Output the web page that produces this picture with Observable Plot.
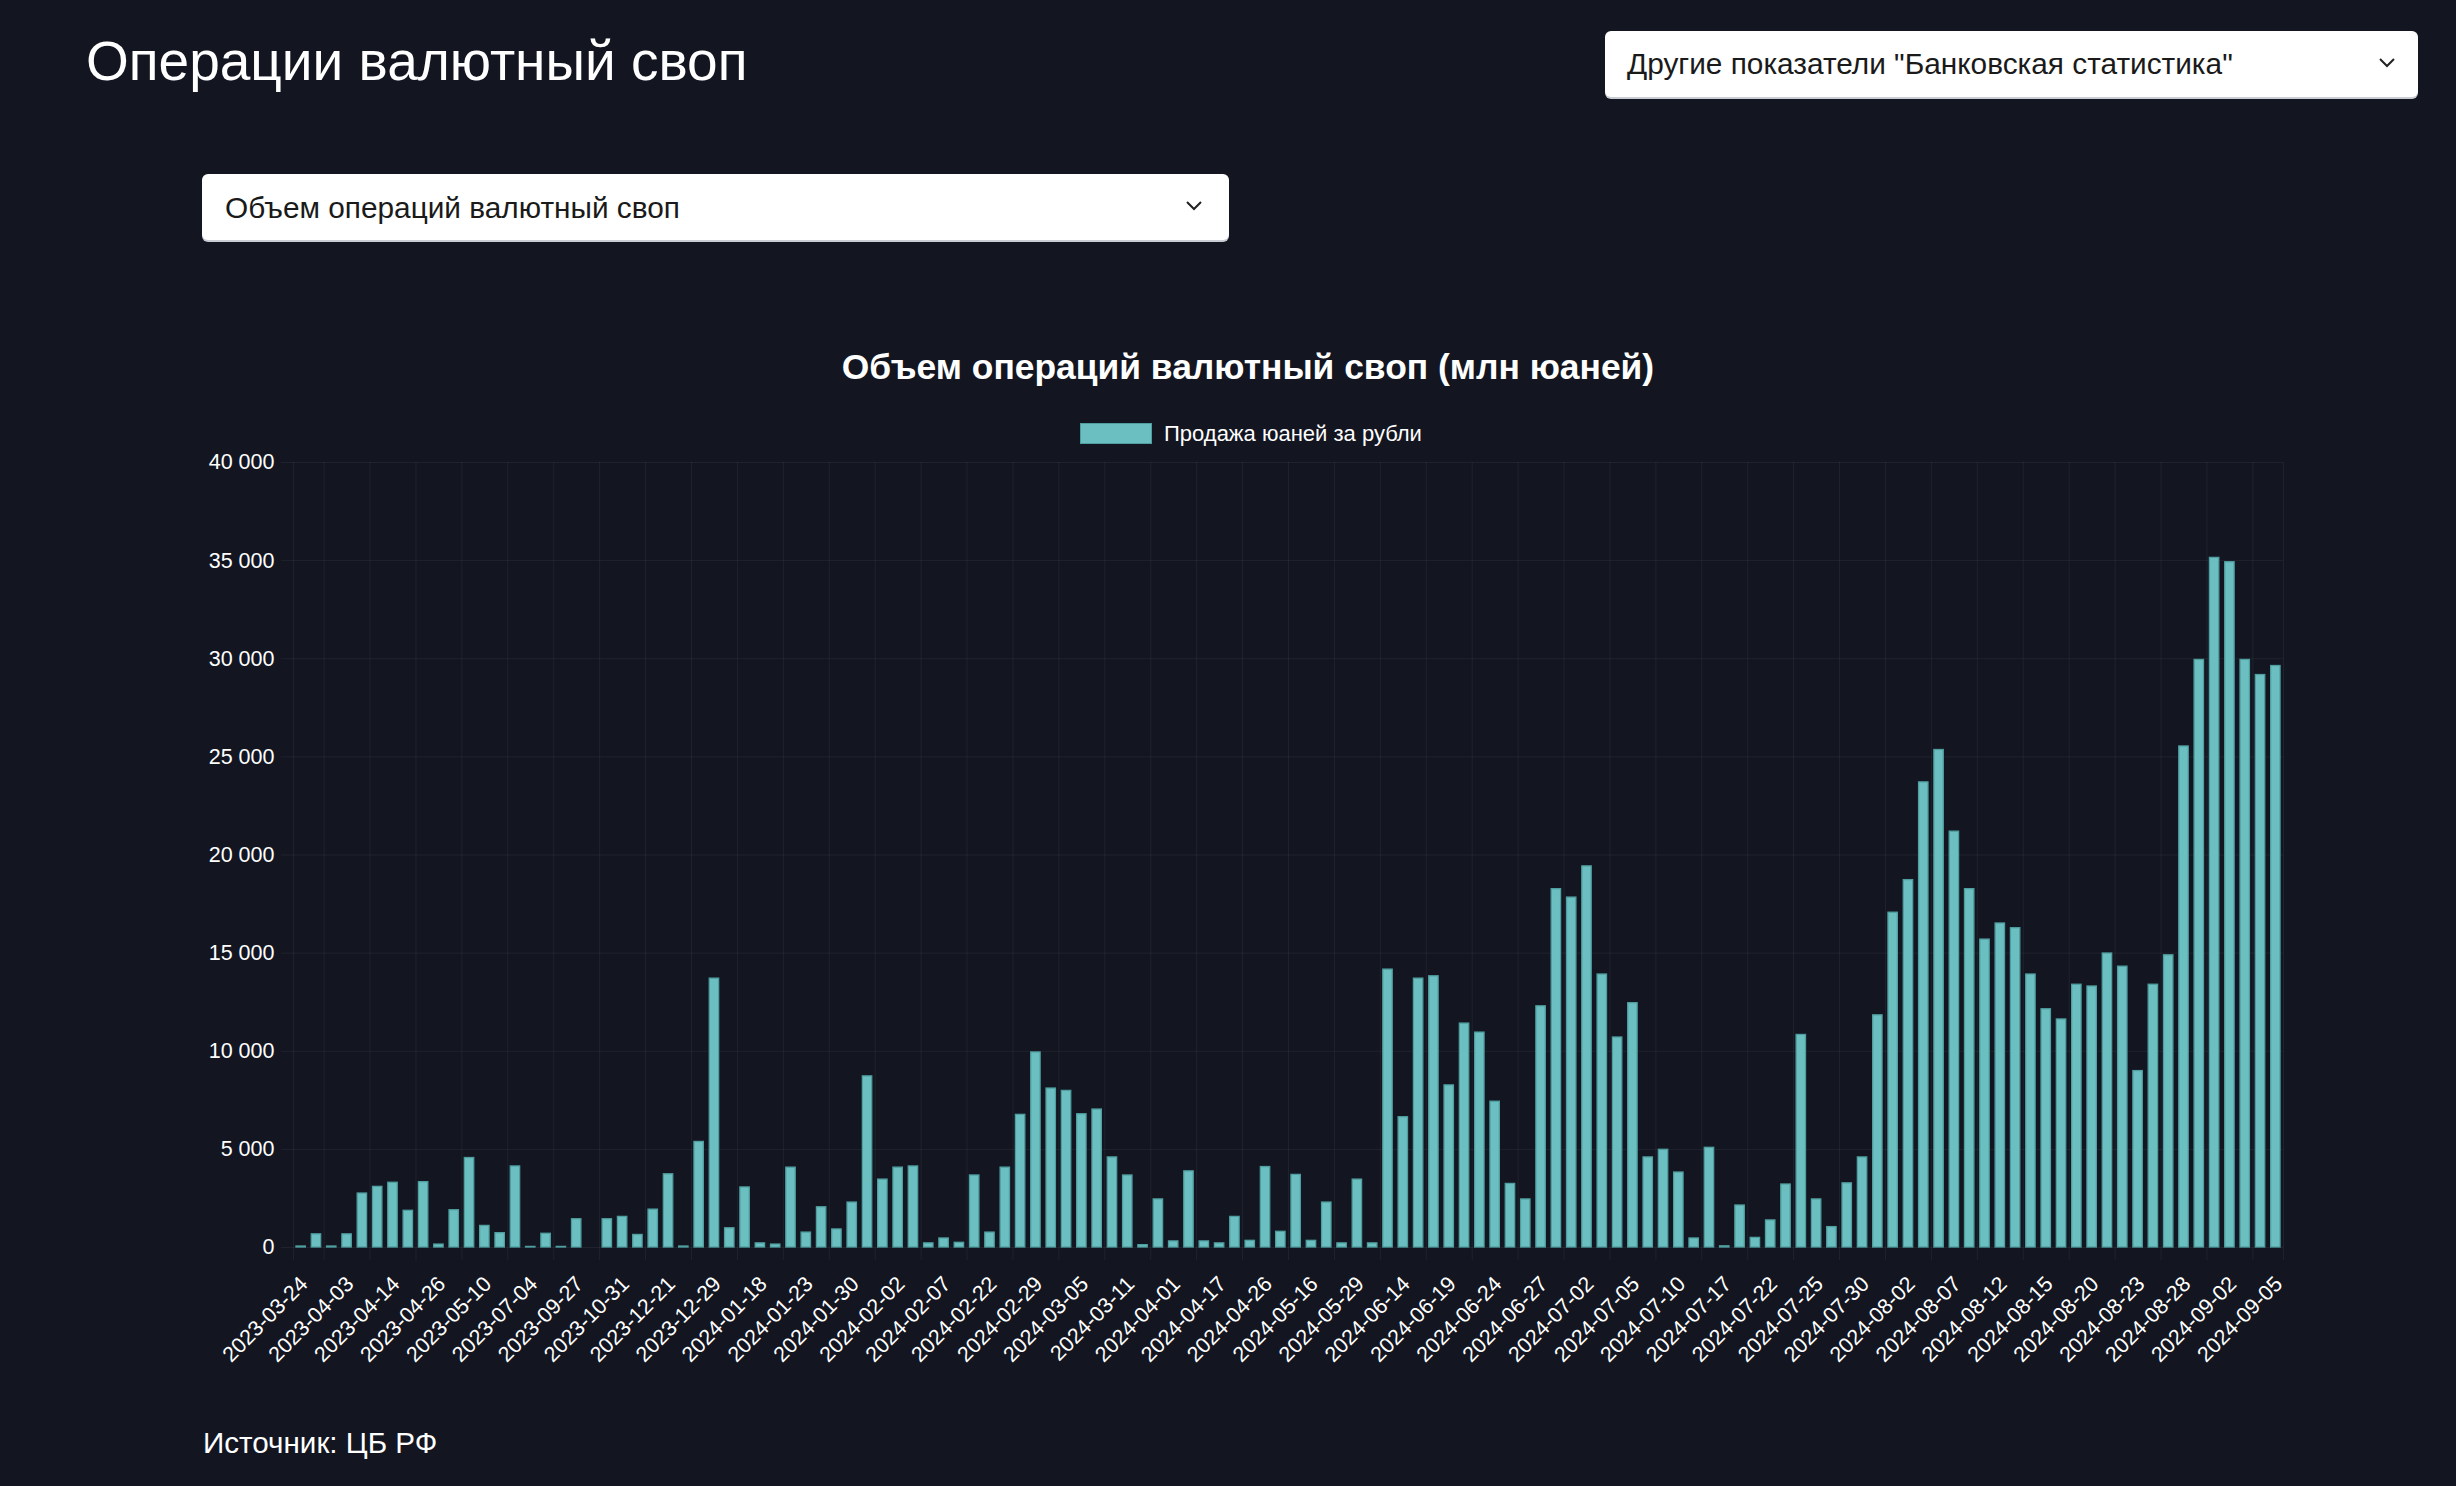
<!DOCTYPE html>
<html>
<head>
<meta charset="utf-8">
<script src="https://cdn.jsdelivr.net/npm/d3@7"></script>
<script src="https://cdn.jsdelivr.net/npm/@observablehq/plot@0.6"></script>
<style>
  html, body { margin: 0; padding: 0; background: #131621; }
  body { width: 2456px; height: 1486px; position: relative; overflow: hidden;
         font-family: "Liberation Sans", Arial, sans-serif; color: #fff; }
  .abs { position: absolute; white-space: nowrap; line-height: 1; }
  #pageTitle { left: 86px; top: 34px; font-size: 55px; }
  .dd { position: absolute; background: #fff; border-radius: 6px; box-shadow: 0 2px 0 #c9ccd3; }
  .dd .txt { position: absolute; white-space: nowrap; line-height: 1; font-size: 29.8px; color: #1a1a1a; }
  .dd svg { position: absolute; }
  #dd1 { left: 1605px; top: 31px; width: 813px; height: 66px; }
  #dd2 { left: 202px; top: 174px; width: 1027px; height: 66px; }
  #chartTitle { left: 0; width: 2496px; text-align: center; top: 350px; font-size: 35.4px; font-weight: bold; }
  #legendSwatch { position: absolute; left: 1080px; top: 423px; width: 70px; height: 19px; }
  #legendText { left: 1164px; top: 423px; font-size: 22px; }
  #caption { left: 203px; top: 1428px; font-size: 29.6px; }
  #chart { position: absolute; left: 0; top: 440px; }
</style>
</head>
<body>
<div id="pageTitle" class="abs"></div>
<div id="dd1" class="dd"><div class="txt" style="left:22px;top:18px"></div>
  <svg style="left:773px;top:26px" width="18" height="12"><polyline points="2,2 9,9 16,2" fill="none" stroke="#222" stroke-width="2"/></svg></div>
<div id="dd2" class="dd"><div class="txt" style="left:23px;top:19px"></div>
  <svg style="left:983px;top:26px" width="18" height="12"><polyline points="2,2 9,9 16,2" fill="none" stroke="#222" stroke-width="2"/></svg></div>
<div id="chartTitle" class="abs"></div>
<div id="legendSwatch"></div>
<div id="legendText" class="abs"></div>
<div id="chart"></div>
<div id="caption" class="abs"></div>
<script>
// ---- texts ----
const pageTitle = "Операции валютный своп";
const dropdownOther = "Другие показатели \"Банковская статистика\"";
const dropdownIndicator = "Объем операций валютный своп";
const chartTitle = "Объем операций валютный своп (млн юаней)";
const seriesName = "Продажа юаней за рубли";
const caption = "Источник: ЦБ РФ";

// ---- categories (dates) ----
const dates = [
  "2023-03-24","2023-03-28","2023-03-30","2023-04-03","2023-04-06","2023-04-11","2023-04-14","2023-04-18","2023-04-21","2023-04-26",
  "2023-05-03","2023-05-05","2023-05-10","2023-05-24","2023-06-14","2023-07-04","2023-07-25","2023-08-16","2023-09-27","2023-10-04",
  "2023-10-18","2023-10-31","2023-11-15","2023-12-06","2023-12-21","2023-12-25","2023-12-27","2023-12-29","2024-01-10","2024-01-16",
  "2024-01-18","2024-01-19","2024-01-22","2024-01-23","2024-01-25","2024-01-26","2024-01-30","2024-01-31","2024-02-01","2024-02-02",
  "2024-02-05","2024-02-06","2024-02-07","2024-02-09","2024-02-15","2024-02-22","2024-02-26","2024-02-28","2024-02-29","2024-03-01",
  "2024-03-04","2024-03-05","2024-03-06","2024-03-07","2024-03-11","2024-03-14","2024-03-22","2024-04-01","2024-04-05","2024-04-12",
  "2024-04-17","2024-04-19","2024-04-23","2024-04-26","2024-05-02","2024-05-08","2024-05-16","2024-05-21","2024-05-24","2024-05-29",
  "2024-06-04","2024-06-11","2024-06-14","2024-06-17","2024-06-18","2024-06-19","2024-06-20","2024-06-21","2024-06-24","2024-06-25",
  "2024-06-26","2024-06-27","2024-06-28","2024-07-01","2024-07-02","2024-07-03","2024-07-04","2024-07-05","2024-07-08","2024-07-09",
  "2024-07-10","2024-07-11","2024-07-15","2024-07-17","2024-07-18","2024-07-19","2024-07-22","2024-07-23","2024-07-24","2024-07-25",
  "2024-07-26","2024-07-29","2024-07-30","2024-07-31","2024-08-01","2024-08-02","2024-08-05","2024-08-06","2024-08-07","2024-08-08",
  "2024-08-09","2024-08-12","2024-08-13","2024-08-14","2024-08-15","2024-08-16","2024-08-19","2024-08-20","2024-08-21","2024-08-22",
  "2024-08-23","2024-08-26","2024-08-27","2024-08-28","2024-08-29","2024-08-30","2024-09-02","2024-09-03","2024-09-04","2024-09-05"
];

// ---- series values (млн юаней) ----
const values = [
  50, 670, 50, 670, 2750, 3090, 3300, 1870, 3330, 150,
  1900, 4560, 1100, 730, 4130, 30, 700, 30, 1440, null,
  1440, 1560, 640, 1930, 3730, 50, 5380, 13700, 980, 3060,
  210, 150, 4070, 760, 2050, 920, 2290, 8720, 3460, 4070,
  4130, 210, 460, 240, 3670, 760, 4070, 6760, 9940, 8100,
  7980, 6790, 7030, 4590, 3670, 120, 2450, 310, 3880, 310,
  210, 1560, 340, 4100, 800, 3700, 340, 2290, 210, 3460,
  210, 14160, 6640, 13700, 13820, 8260, 11410, 10950, 7430, 3240,
  2450, 12290, 18260, 17830, 19420, 13910, 10700, 12450, 4590, 4980,
  3820, 460, 5080, 60, 2140, 490, 1380, 3210, 10830, 2450,
  1040, 3270, 4590, 11830, 17060, 18720, 23700, 25350, 21190, 18260,
  15690, 16510, 16270, 13910, 12140, 11620, 13390, 13300, 14980, 14310,
  8990, 13390, 14890, 25530, 29940, 35140, 34920, 29940, 29170, 29630
];

// ---- tick labels ----
const xTickLabels = [
  "2023-03-24","2023-04-03","2023-04-14","2023-04-26","2023-05-10","2023-07-04","2023-09-27","2023-10-31","2023-12-21","2023-12-29",
  "2024-01-18","2024-01-23","2024-01-30","2024-02-02","2024-02-07","2024-02-22","2024-02-29","2024-03-05","2024-03-11","2024-04-01",
  "2024-04-17","2024-04-26","2024-05-16","2024-05-29","2024-06-14","2024-06-19","2024-06-24","2024-06-27","2024-07-02","2024-07-05",
  "2024-07-10","2024-07-17","2024-07-22","2024-07-25","2024-07-30","2024-08-02","2024-08-07","2024-08-12","2024-08-15","2024-08-20",
  "2024-08-23","2024-08-28","2024-09-02","2024-09-05"
];
const yTicks = [0, 5000, 10000, 15000, 20000, 25000, 30000, 35000, 40000];

// ---- styles ----
const barFill = "#6bbfc0";
const barStroke = "#4f9fa0";
const gridColor = "#ffffff";
const gridOpacity = 0.055;

document.getElementById("pageTitle").textContent = pageTitle;
document.querySelector("#dd1 .txt").textContent = dropdownOther;
document.querySelector("#dd2 .txt").textContent = dropdownIndicator;
document.getElementById("chartTitle").textContent = chartTitle;
document.getElementById("legendText").textContent = seriesName;
document.getElementById("caption").textContent = caption;
const sw = document.getElementById("legendSwatch");
sw.style.background = barFill;
sw.style.border = "1.5px solid " + barStroke;

const data = dates.map((d, i) => ({date: d, value: values[i]}));
const plotLeft = 293, plotRight = 2283;
const step = (plotRight - plotLeft) / dates.length;
const gridXDates = [dates[0], ...dates.filter((d, i) => i % 3 === 2)];
const fmt = v => d3.format(",")(v).replace(/,/g, " ");

const chart = Plot.plot({
  width: 2456,
  height: 960,
  marginTop: 22,
  marginBottom: 153,
  marginLeft: plotLeft,
  marginRight: 2456 - plotRight,
  style: {background: "transparent", color: "#fff", fontFamily: "'Liberation Sans', Arial, sans-serif", fontSize: "21px", overflow: "visible"},
  x: {type: "band", domain: dates, paddingInner: 0.386, paddingOuter: 0.193, round: false, label: null},
  y: {domain: [0, 40000], label: null},
  marks: [
    Plot.gridY(yTicks, {stroke: gridColor, strokeOpacity: gridOpacity, strokeWidth: 1, insetLeft: -12}),
    Plot.ruleX(gridXDates, {x: d => d, dx: -step / 2, stroke: gridColor, strokeOpacity: gridOpacity, insetBottom: -13}),
    Plot.ruleX([dates[dates.length - 1]], {x: d => d, dx: step / 2, stroke: gridColor, strokeOpacity: gridOpacity, insetBottom: -13}),
    Plot.barY(data.filter(d => d.value != null), {x: "date", y: "value", fill: barFill, stroke: barStroke, strokeWidth: 1.3}),
    Plot.axisY(yTicks, {tickSize: 0, tickPadding: 19, tickFormat: fmt, fontSize: 21.5, label: null}),
    Plot.axisX(xTickLabels, {tickRotate: -45, tickSize: 0, tickPadding: 33, fontSize: 21.5, dx: 3, label: null})
  ]
});
document.getElementById("chart").appendChild(chart);
</script>
</body>
</html>
